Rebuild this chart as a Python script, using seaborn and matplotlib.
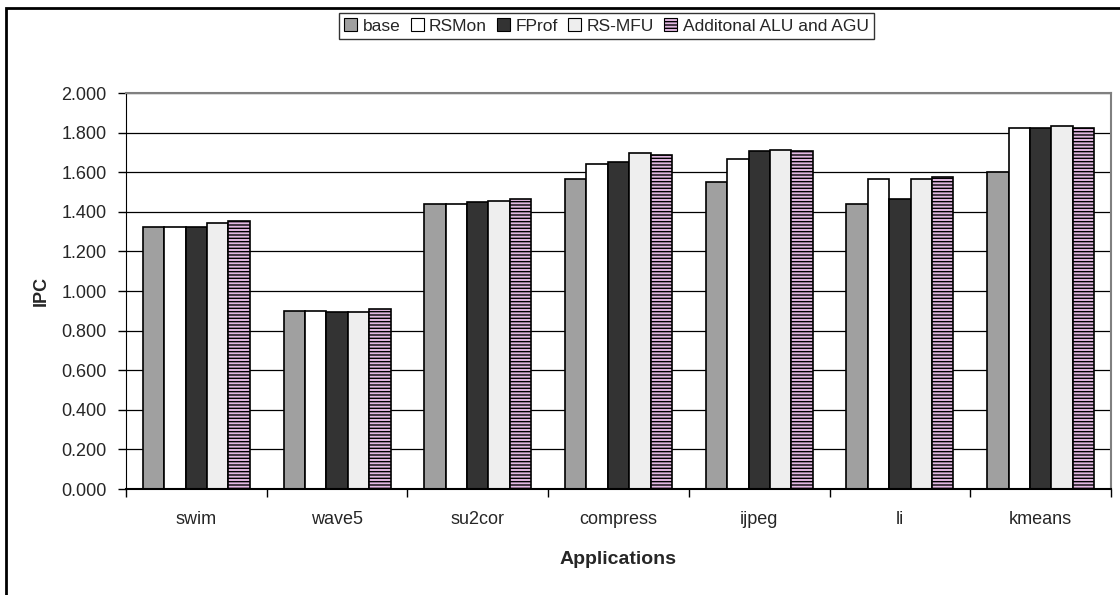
import pandas as pd
import matplotlib.pyplot as plt
import matplotlib.patches as mpatches
import seaborn as sns

apps = ["swim", "wave5", "su2cor", "compress", "ijpeg", "li", "kmeans"]
series = ["base", "RSMon", "FProf", "RS-MFU", "Additonal ALU and AGU"]
base = [1.325, 0.900, 1.438, 1.567, 1.549, 1.438, 1.603]
rsmon = [1.325, 0.900, 1.438, 1.641, 1.665, 1.566, 1.823]
fprof = [1.325, 0.893, 1.449, 1.652, 1.705, 1.465, 1.823]
rsmfu = [1.345, 0.893, 1.456, 1.697, 1.713, 1.566, 1.835]
extra = [1.355, 0.910, 1.466, 1.687, 1.705, 1.577, 1.823]

colors = ["#A0A0A0", "#FFFFFF", "#333333", "#EEEEEE", "#E2B8E2"]

rows = []
for name, vals in zip(series, [base, rsmon, fprof, rsmfu, extra]):
    for app, v in zip(apps, vals):
        rows.append({"app": app, "series": name, "ipc": v})
df = pd.DataFrame(rows)

sns.set_style("white")
plt.rcParams["font.family"] = ["Liberation Sans", "DejaVu Sans"]
plt.rcParams["hatch.color"] = "#8E3A8E"
plt.rcParams["hatch.linewidth"] = 1.0

W, H = 1120, 595
fig = plt.figure(figsize=(11.2, 5.95), dpi=100)
ax = fig.add_axes([126 / W, 1 - 489 / H, (1111 - 126) / W, (489 - 93) / H])

sns.barplot(data=df, x="app", y="ipc", hue="series", palette=colors,
            edgecolor="black", linewidth=1.2, width=0.76, saturation=1,
            legend=False, ax=ax)

for patch in ax.containers[4]:
    patch.set_hatch("-----")

ax.set_ylim(0, 2.0)
ax.set_xlim(-0.5, len(apps) - 0.5)
ax.set_yticks([i * 0.2 for i in range(11)])
ax.set_yticklabels([f"{i * 0.2:.3f}" for i in range(11)], fontsize=13)
ax.set_xticks([i - 0.5 for i in range(len(apps) + 1)], minor=True)
ax.tick_params(axis="x", which="major", labelsize=13, length=0, pad=15.5)
ax.tick_params(axis="x", which="minor", length=6, width=1, color="black",
               direction="out", bottom=True)
ax.tick_params(axis="y", length=6, width=1, color="black", direction="out",
               left=True, pad=8)
ax.yaxis.grid(True, color="black", linewidth=0.9)
ax.set_axisbelow(True)
for side in ["top", "right"]:
    ax.spines[side].set_color("#808080")
    ax.spines[side].set_linewidth(1.5)
ax.spines["left"].set_color("black")
ax.spines["bottom"].set_color("black")
ax.spines["bottom"].set_linewidth(1.5)
ax.set_xlabel("Applications", fontsize=14, fontweight="bold", labelpad=17)
ax.set_ylabel("IPC", fontsize=13, fontweight="bold", labelpad=8)

handles = []
for name, c in zip(series, colors):
    h = mpatches.Patch(facecolor=c, edgecolor="black", linewidth=0.8, label=name)
    if name == series[-1]:
        h.set_hatch("-----")
    handles.append(h)
leg = fig.legend(handles=handles, loc="upper left", bbox_to_anchor=(339 / W, 1 - 13 / H),
                 ncol=5, frameon=True, fontsize=12.5, handlelength=0.75, handleheight=0.75,
                 handletextpad=0.3, columnspacing=0.6, borderpad=0.3, borderaxespad=0,
                 fancybox=False)
leg.get_frame().set_edgecolor("black")
leg.get_frame().set_linewidth(1)

# outer chart frame (runs off the right and bottom of the image)
fig.patches.append(mpatches.Rectangle((6 / W, -0.1), 1.2, 1 - 8 / H + 0.1,
                                      transform=fig.transFigure, fill=False,
                                      edgecolor="black", linewidth=2))

fig.savefig("out.png", dpi=100)
